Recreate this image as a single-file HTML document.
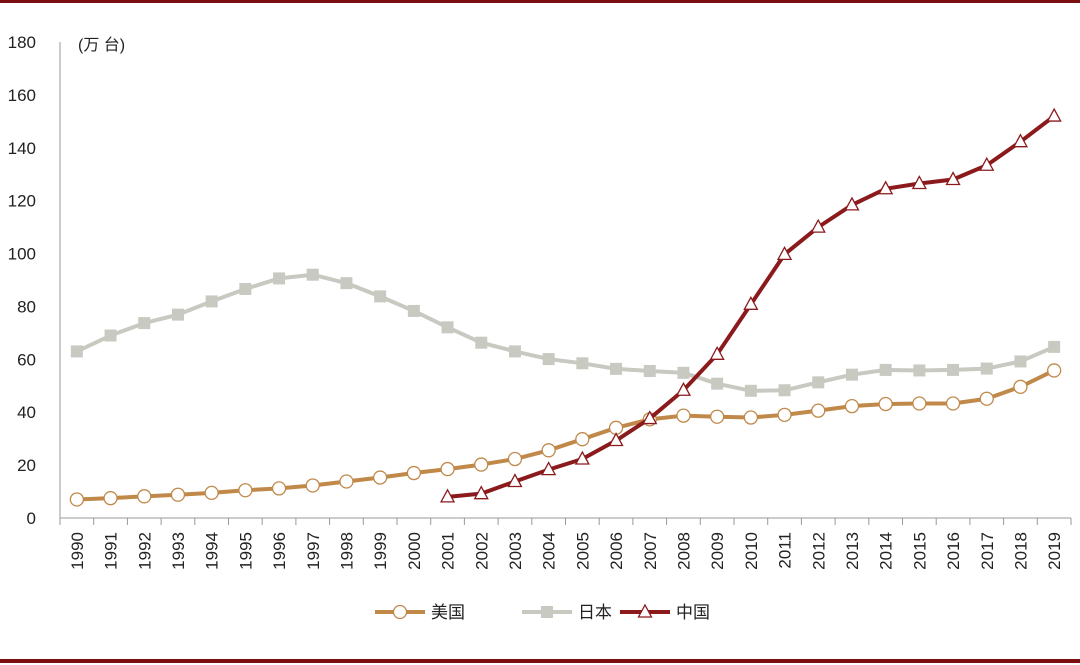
<!DOCTYPE html>
<html><head><meta charset="utf-8"><style>
body{margin:0;background:#fff;width:1080px;height:665px;overflow:hidden}
svg{display:block;font-family:"Liberation Sans","Noto Sans CJK SC",sans-serif}
</style></head><body>
<svg id="c" width="1080" height="665">
<rect x="0" y="0" width="1080" height="3" fill="#7a0f12"/>
<rect x="0" y="659" width="1080" height="4" fill="#7a0f12"/>
<text x="78" y="50" font-size="16" fill="#222">(万 台)</text>
</svg>
<script>
const years=[1990,1991,1992,1993,1994,1995,1996,1997,1998,1999,2000,2001,2002,2003,2004,2005,2006,2007,2008,2009,2010,2011,2012,2013,2014,2015,2016,2017,2018,2019];
const usVals=[7,7.5,8.2,8.8,9.5,10.5,11.2,12.3,13.8,15.3,17,18.5,20.2,22.3,25.6,29.8,34.1,37.3,38.7,38.3,38,39,40.6,42.3,43.1,43.3,43.3,45.1,49.6,55.8];
const jpVals=[63,69,73.7,76.9,81.9,86.6,90.6,92,88.8,83.8,78.3,72.1,66.3,63,60.1,58.5,56.4,55.6,54.9,50.8,48.1,48.3,51.3,54.2,56,55.8,56,56.5,59.2,64.7];
const cnVals=[null,null,null,null,null,null,null,null,null,null,null,8,9.2,13.8,18.3,22.3,29.3,37.6,48.3,61.9,80.8,99.7,110,118.4,124.5,126.5,128,133.4,142.3,152];
const yTicks=[0,20,40,60,80,100,120,140,160,180];
const svg=document.getElementById('c');const NS='http://www.w3.org/2000/svg';
const X0=60,X1=1071,Y0=518,Y1=42;
const step=(X1-X0)/years.length;
const xs=i=>X0+step*(i+0.5);
const ys=v=>Y0-(v/180)*(Y0-Y1);
function mk(t,a){const e=document.createElementNS(NS,t);for(const k in a)e.setAttribute(k,a[k]);svg.appendChild(e);return e;}
let e;
e=mk('line',{x1:X0,y1:Y1,x2:X0,y2:Y0,stroke:'#999','stroke-width':1});


e=mk('line',{x1:X0,y1:Y0,x2:X1,y2:Y0,stroke:'#999','stroke-width':1});


yTicks.forEach(v=>{e=mk('text',{x:36,y:ys(v)+6,'font-size':17,'text-anchor':'end',fill:'#222'});e.textContent=v;

});
for(let i=0;i<=years.length;i++){e=mk('line',{x1:X0+step*i,y1:Y0,x2:X0+step*i,y2:Y0+7,stroke:'#999'});

}
years.forEach((y,i)=>{e=mk('text',{x:0,y:0,'font-size':17,'text-anchor':'end',fill:'#222',transform:`translate(${xs(i)+6},${Y0+14}) rotate(-90)`});e.textContent=y;

});
function series(vals,color,name,marker){
 const pts=[];vals.forEach((v,i)=>{if(v!=null)pts.push([xs(i),ys(v)]);});
 e=mk('polyline',{points:pts.map(p=>p.join(',')).join(' '),fill:'none',stroke:color,'stroke-width':4,'stroke-linejoin':'round'});
 
 
 pts.forEach(p=>{drawMarker(marker,p[0],p[1],color);});
}
function drawMarker(m,x,y,color){
 if(m==='circle')e=mk('circle',{cx:x,cy:y,r:6.5,fill:'#fff',stroke:color,'stroke-width':1.3});
 else if(m==='square')e=mk('rect',{x:x-6,y:y-6,width:12,height:12,fill:color});
 else e=mk('polygon',{points:`${x},${y-7} ${x-6.5},${y+5} ${x+6.5},${y+5}`,fill:'#fff',stroke:color,'stroke-width':1.3});
 
 
}
series(jpVals,'#c8c9c1','japan','square');
series(usVals,'#c0894a','usa','circle');
series(cnVals,'#8b1a1c','china','triangle');
const legend=[['#c0894a','circle','美国',375],['#c8c9c1','square','日本',522],['#8b1a1c','triangle','中国',620]];
legend.forEach(l=>{
 e=mk('line',{x1:l[3],y1:612,x2:l[3]+50,y2:612,stroke:l[0],'stroke-width':4});
 
 
 drawMarker(l[1],l[3]+25,612,l[0]);
 e=mk('text',{x:l[3]+56,y:618,'font-size':17,fill:'#222'});e.textContent=l[2];
 
 
});
</script>
</body></html>
